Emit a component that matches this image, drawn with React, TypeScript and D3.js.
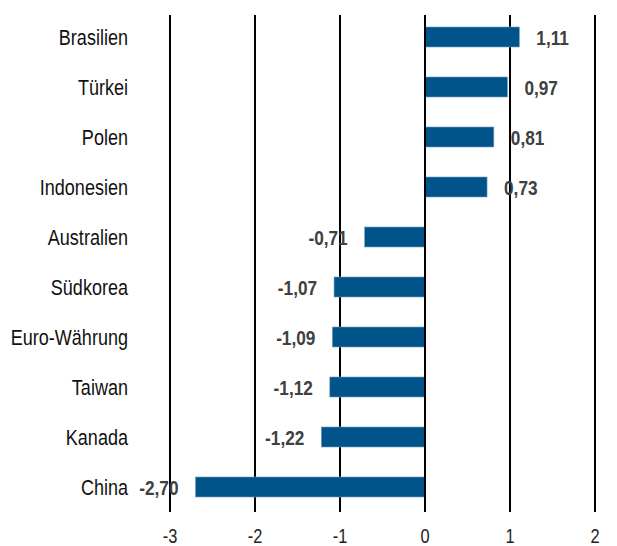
import React from "react";
import * as d3 from "d3";

const categories = [
  "Brasilien",
  "Türkei",
  "Polen",
  "Indonesien",
  "Australien",
  "Südkorea",
  "Euro-Währung",
  "Taiwan",
  "Kanada",
  "China",
];
const values = [1.11, 0.97, 0.81, 0.73, -0.71, -1.07, -1.09, -1.12, -1.22, -2.7];
const ticks = [-3, -2, -1, 0, 1, 2];

const W = 617;
const H = 546;
const font = "'Liberation Sans', Arial, sans-serif";

// no narrow font installed, so squeeze Liberation Sans horizontally
const Narrow = ({ x, y, anchor, size, weight, fill, children }: any) => (
  <text
    transform={`translate(${x},${y}) scale(0.82,1)`}
    textAnchor={anchor}
    fontFamily={font}
    fontSize={size}
    fontWeight={weight}
    fill={fill}
  >
    {children}
  </text>
);

const App = () => {
  const x = d3.scaleLinear().domain([-3, 2]).range([170, 595]);
  const y = d3
    .scaleBand()
    .domain(categories)
    .range([12, 512])
    .paddingInner(0.6)
    .paddingOuter(0.3);
  const fmt = (v: number) => d3.format(".2f")(v).replace(".", ",").replace("−", "-");

  return (
    <svg width={W} height={H} style={{ position: "absolute", left: 0, top: 0 }}>
      <rect width={W} height={H} fill="#fff" />
      {ticks.map((t) => (
        <g key={t}>
          <line x1={x(t)} x2={x(t)} y1={15} y2={512} stroke="#000" strokeWidth={2} />
          <Narrow x={x(t)} y={543} anchor="middle" size={20} fill="#222">
            {t}
          </Narrow>
        </g>
      ))}
      {categories.map((c, i) => {
        const v = values[i];
        const yc = (y(c) ?? 0) + y.bandwidth() / 2;
        return (
          <g key={c}>
            <rect
              x={x(Math.min(0, v))}
              y={y(c)}
              width={Math.abs(x(v) - x(0))}
              height={y.bandwidth()}
              fill="#00548a"
              stroke="#6f9dc2"
              strokeWidth={0.6}
            />
            <Narrow x={128} y={yc + 8} anchor="end" size={22} fill="#111">
              {c}
            </Narrow>
            <Narrow
              x={v >= 0 ? x(v) + 17 : x(v) - 17}
              y={yc + 8}
              anchor={v >= 0 ? "start" : "end"}
              size={21}
              weight="bold"
              fill="#404040"
            >
              {fmt(v)}
            </Narrow>
          </g>
        );
      })}
      <line x1={x(0)} x2={x(0)} y1={15} y2={512} stroke="#000" strokeWidth={2} />
    </svg>
  );
};

export default App;
